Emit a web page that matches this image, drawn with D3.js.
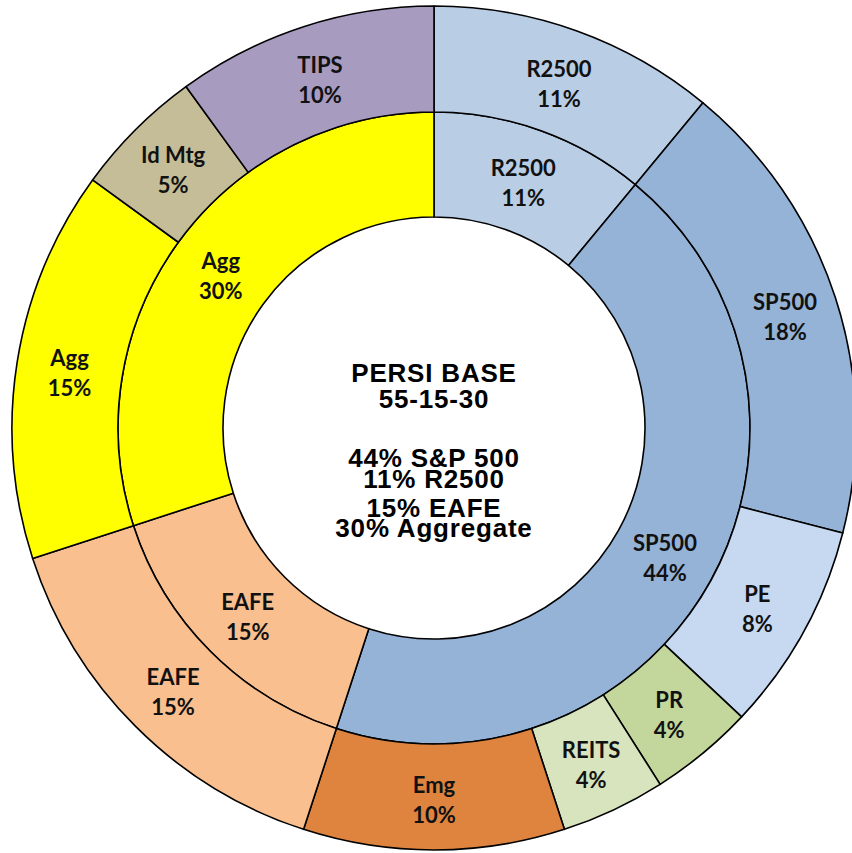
<!DOCTYPE html>
<html>
<head>
<meta charset="utf-8">
<script src="https://cdn.jsdelivr.net/npm/d3@7"></script>
<style>
  html, body { margin: 0; padding: 0; background: #fff; }
  svg { display: block; }
</style>
</head>
<body>
<div id="chart"></div>
<script>
// inner ring (benchmark)
const innerNames = ['R2500', 'SP500', 'EAFE', 'Agg'];
const innerValues = [11, 44, 15, 30];
const innerColors = ['#B9CDE5', '#95B3D7', '#F9BF8F', '#FFFF00'];

// outer ring (detailed allocation)
const outerNames = ['R2500', 'SP500', 'PE', 'PR', 'REITS', 'Emg', 'EAFE', 'Agg', 'Id Mtg', 'TIPS'];
const outerValues = [11, 18, 8, 4, 4, 10, 15, 15, 5, 10];
const outerColors = ['#B9CDE5', '#95B3D7', '#C6D9F1', '#C3D69B', '#D7E4BD', '#DE843F', '#F9BF8F', '#FFFF00', '#C4BD97', '#A89BC0'];

const centerLines = ['PERSI BASE', '55-15-30', '44% S&P 500', '11% R2500', '15% EAFE', '30% Aggregate'];
const centerOffsets = [-46, -20, 39, 60, 89, 109];

const width = 852, height = 853;
const cx = 434, cy = 428;
const rOuter = 422, rMid = 316, rHole = 211;

const svg = d3.select('#chart')
  .append('svg')
  .attr('width', width)
  .attr('height', height);

const g = svg.append('g').attr('transform', `translate(${cx},${cy})`);

const pie = d3.pie().sort(null).value(d => d.value);

function drawRing(names, values, colors, r0, r1, cls) {
  const data = names.map((n, i) => ({ name: n, value: values[i], color: colors[i] }));
  const arc = d3.arc().innerRadius(r0).outerRadius(r1);
  const arcs = pie(data);

  g.selectAll('path.' + cls)
    .data(arcs)
    .join('path')
    .attr('class', cls)
    .attr('d', arc)
    .attr('fill', d => d.data.color)
    .attr('stroke', '#000')
    .attr('stroke-width', 1.6)
    .attr('stroke-linejoin', 'round');

  const labels = g.selectAll('text.' + cls)
    .data(arcs)
    .join('text')
    .attr('class', cls)
    .attr('transform', d => `translate(${arc.centroid(d)})`)
    .attr('text-anchor', 'middle')
    .style('font-family', 'Lato, "Open Sans", sans-serif')
    .style('font-weight', 700)
    .style('font-size', '22px')
    .attr('fill', '#111');

  labels.append('tspan').attr('x', 0).attr('y', -4).text(d => d.data.name);
  labels.append('tspan').attr('x', 0).attr('y', 26).text(d => d.data.value + '%');
}

drawRing(innerNames, innerValues, innerColors, rHole, rMid, 'inner');
drawRing(outerNames, outerValues, outerColors, rMid, rOuter, 'outer');

// centre text, lines packed tightly as in the original
g.selectAll('text.center')
  .data(centerLines)
  .join('text')
  .attr('class', 'center')
  .attr('x', 0)
  .attr('y', (d, i) => centerOffsets[i])
  .attr('text-anchor', 'middle')
  .style('font-family', '"Liberation Sans", Arial, sans-serif')
  .style('font-weight', 700)
  .style('font-size', '26px')
  .style('letter-spacing', '0.8px')
  .text(d => d);
</script>
</body>
</html>
